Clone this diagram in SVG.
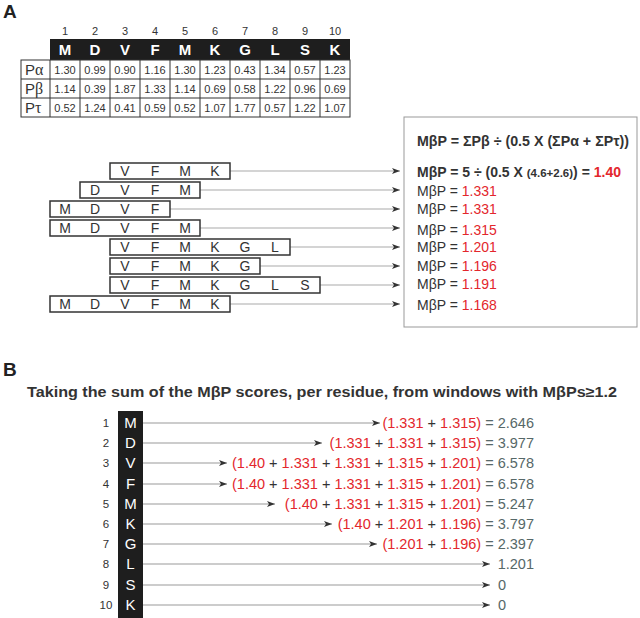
<svg xmlns="http://www.w3.org/2000/svg" width="640" height="618" viewBox="0 0 640 618">
<style>
text{font-family:"Liberation Sans",Arial,sans-serif;fill:#333}
.lab{font-size:19px;font-weight:bold;fill:#222}
.cn{font-size:11px;text-anchor:middle;fill:#333}
.hd{font-size:15px;font-weight:bold;fill:#fff;text-anchor:middle}
.cv{font-size:11px;text-anchor:middle;fill:#333}
.rl{font-size:15px;fill:#333}
.gk{font-family:"Liberation Serif","Times New Roman",serif;font-weight:normal}
.grid{stroke:#333;stroke-width:1;fill:none}
.win rect{fill:#fff;stroke:#333;stroke-width:1.5}
.win text{font-size:14px;text-anchor:middle;fill:#333}
.fb{fill:#fff;stroke:#999;stroke-width:1}
.f{font-size:14px;fill:#333}
.b{font-weight:bold}
.red{fill:#e3262c}
.res{fill:#566868}
.conA line{stroke:#aaa;stroke-width:1.2;marker-end:url(#ah)}
.conB line{stroke:#999;stroke-width:1.2;marker-end:url(#ah)}
.col text{font-size:15px;fill:#fff;text-anchor:middle}
.rn{font-size:11.5px;fill:#333;text-anchor:middle}
.sum{font-size:14.5px;text-anchor:end}
</style>
<defs>
<marker id="ah" markerUnits="userSpaceOnUse" markerWidth="10" markerHeight="8" refX="8" refY="3" orient="auto">
<path d="M0,0 L8,3 L0,6 L2,3 z" fill="#333"/>
</marker>
</defs>

<text class="lab" x="3" y="18">A</text>

<g id="table">
<text class="cn" x="65" y="35">1</text>
<text class="cn" x="95" y="35">2</text>
<text class="cn" x="125" y="35">3</text>
<text class="cn" x="155" y="35">4</text>
<text class="cn" x="185" y="35">5</text>
<text class="cn" x="215" y="35">6</text>
<text class="cn" x="245" y="35">7</text>
<text class="cn" x="275" y="35">8</text>
<text class="cn" x="305" y="35">9</text>
<text class="cn" x="335" y="35">10</text>
<rect x="50" y="39" width="300" height="21" fill="#1e1e1e"/>
<text class="hd" x="65" y="55">M</text>
<text class="hd" x="95" y="55">D</text>
<text class="hd" x="125" y="55">V</text>
<text class="hd" x="155" y="55">F</text>
<text class="hd" x="185" y="55">M</text>
<text class="hd" x="215" y="55">K</text>
<text class="hd" x="245" y="55">G</text>
<text class="hd" x="275" y="55">L</text>
<text class="hd" x="305" y="55">S</text>
<text class="hd" x="335" y="55">K</text>
<rect class="grid" x="21" y="60" width="329" height="57"/>
<path class="grid" d="M21,79H350M21,98H350M50,60V117M80,60V117M110,60V117M140,60V117M170,60V117M200,60V117M230,60V117M260,60V117M290,60V117M320,60V117"/>
<text class="rl" x="25" y="75">P<tspan class="gk" font-size="16">α</tspan></text>
<text class="rl" x="25" y="94">P<tspan class="gk" font-size="16">β</tspan></text>
<text class="rl" x="25" y="113">P<tspan class="gk" font-size="16">τ</tspan></text>
<text class="cv" x="65" y="74">1.30</text><text class="cv" x="95" y="74">0.99</text><text class="cv" x="125" y="74">0.90</text><text class="cv" x="155" y="74">1.16</text><text class="cv" x="185" y="74">1.30</text><text class="cv" x="215" y="74">1.23</text><text class="cv" x="245" y="74">0.43</text><text class="cv" x="275" y="74">1.34</text><text class="cv" x="305" y="74">0.57</text><text class="cv" x="335" y="74">1.23</text>
<text class="cv" x="65" y="93">1.14</text><text class="cv" x="95" y="93">0.39</text><text class="cv" x="125" y="93">1.87</text><text class="cv" x="155" y="93">1.33</text><text class="cv" x="185" y="93">1.14</text><text class="cv" x="215" y="93">0.69</text><text class="cv" x="245" y="93">0.58</text><text class="cv" x="275" y="93">1.22</text><text class="cv" x="305" y="93">0.96</text><text class="cv" x="335" y="93">0.69</text>
<text class="cv" x="65" y="112">0.52</text><text class="cv" x="95" y="112">1.24</text><text class="cv" x="125" y="112">0.41</text><text class="cv" x="155" y="112">0.59</text><text class="cv" x="185" y="112">0.52</text><text class="cv" x="215" y="112">1.07</text><text class="cv" x="245" y="112">1.77</text><text class="cv" x="275" y="112">0.57</text><text class="cv" x="305" y="112">1.22</text><text class="cv" x="335" y="112">1.07</text>
</g>

<g id="connectors-A" class="conA">
<line x1="230" y1="171" x2="400" y2="171"/>
<line x1="200" y1="190" x2="400" y2="190"/>
<line x1="170" y1="209" x2="400" y2="209"/>
<line x1="200" y1="228" x2="400" y2="228"/>
<line x1="290" y1="247" x2="400" y2="247"/>
<line x1="260" y1="266" x2="400" y2="266"/>
<line x1="320" y1="285" x2="400" y2="285"/>
<line x1="230" y1="304" x2="400" y2="304"/>
</g>

<g id="win1" class="win"><rect x="110" y="163" width="120" height="16"/><text x="125" y="176">V</text><text x="155" y="176">F</text><text x="185" y="176">M</text><text x="215" y="176">K</text></g>
<g id="win2" class="win"><rect x="80" y="182" width="120" height="16"/><text x="95" y="195">D</text><text x="125" y="195">V</text><text x="155" y="195">F</text><text x="185" y="195">M</text></g>
<g id="win3" class="win"><rect x="50" y="201" width="120" height="16"/><text x="65" y="214">M</text><text x="95" y="214">D</text><text x="125" y="214">V</text><text x="155" y="214">F</text></g>
<g id="win4" class="win"><rect x="50" y="220" width="150" height="16"/><text x="65" y="233">M</text><text x="95" y="233">D</text><text x="125" y="233">V</text><text x="155" y="233">F</text><text x="185" y="233">M</text></g>
<g id="win5" class="win"><rect x="110" y="239" width="180" height="16"/><text x="125" y="252">V</text><text x="155" y="252">F</text><text x="185" y="252">M</text><text x="215" y="252">K</text><text x="245" y="252">G</text><text x="275" y="252">L</text></g>
<g id="win6" class="win"><rect x="110" y="258" width="150" height="16"/><text x="125" y="271">V</text><text x="155" y="271">F</text><text x="185" y="271">M</text><text x="215" y="271">K</text><text x="245" y="271">G</text></g>
<g id="win7" class="win"><rect x="110" y="277" width="210" height="16"/><text x="125" y="290">V</text><text x="155" y="290">F</text><text x="185" y="290">M</text><text x="215" y="290">K</text><text x="245" y="290">G</text><text x="275" y="290">L</text><text x="305" y="290">S</text></g>
<g id="win8" class="win"><rect x="50" y="296" width="180" height="16"/><text x="65" y="309">M</text><text x="95" y="309">D</text><text x="125" y="309">V</text><text x="155" y="309">F</text><text x="185" y="309">M</text><text x="215" y="309">K</text></g>

<g id="formula-box">
<rect class="fb" x="404" y="117" width="233" height="210"/>
<text class="f b" x="417" y="146" textLength="212" lengthAdjust="spacingAndGlyphs">MβP = ΣPβ ÷ (0.5 X (ΣPα + ΣPτ))</text>
<text class="f b" x="417" y="177">MβP = 5 ÷ (0.5 X <tspan font-size="11.5">(4.6+2.6)</tspan>) = <tspan class="red">1.40</tspan></text>
<text class="f" x="417" y="196">MβP = <tspan class="red">1.331</tspan></text>
<text class="f" x="417" y="214">MβP = <tspan class="red">1.331</tspan></text>
<text class="f" x="417" y="235">MβP = <tspan class="red">1.315</tspan></text>
<text class="f" x="417" y="252">MβP = <tspan class="red">1.201</tspan></text>
<text class="f" x="417" y="271">MβP = <tspan class="red">1.196</tspan></text>
<text class="f" x="417" y="289">MβP = <tspan class="red">1.191</tspan></text>
<text class="f" x="417" y="310">MβP = <tspan class="red">1.168</tspan></text>
</g>

<text class="lab" x="3" y="376">B</text>
<text x="27" y="397" font-size="14.5" font-weight="bold" fill="#222" textLength="590" lengthAdjust="spacingAndGlyphs">Taking the sum of the MβP scores, per residue, from windows with MβPs≥1.2</text>

<g id="residues" class="col">
<rect x="118" y="411" width="25" height="207" fill="#1e1e1e"/>
<text x="130.5" y="428">M</text>
<text x="130.5" y="448">D</text>
<text x="130.5" y="468">V</text>
<text x="130.5" y="489">F</text>
<text x="130.5" y="509">M</text>
<text x="130.5" y="529">K</text>
<text x="130.5" y="549">G</text>
<text x="130.5" y="569">L</text>
<text x="130.5" y="590">S</text>
<text x="130.5" y="610">K</text>
</g>
<g id="rownums">
<text class="rn" x="106" y="427">1</text>
<text class="rn" x="106" y="447">2</text>
<text class="rn" x="106" y="467">3</text>
<text class="rn" x="106" y="488">4</text>
<text class="rn" x="106" y="508">5</text>
<text class="rn" x="106" y="528">6</text>
<text class="rn" x="106" y="548">7</text>
<text class="rn" x="106" y="568">8</text>
<text class="rn" x="106" y="589">9</text>
<text class="rn" x="106" y="609">10</text>
</g>

<g id="connectors-B" class="conB">
<line x1="143" y1="423" x2="380" y2="423"/>
<line x1="143" y1="443" x2="322" y2="443"/>
<line x1="143" y1="463" x2="227" y2="463"/>
<line x1="143" y1="484" x2="227" y2="484"/>
<line x1="143" y1="504" x2="275" y2="504"/>
<line x1="143" y1="524" x2="332" y2="524"/>
<line x1="143" y1="544" x2="377" y2="544"/>
<line x1="143" y1="564" x2="490" y2="564"/>
<line x1="143" y1="585" x2="490" y2="585"/>
<line x1="143" y1="605" x2="490" y2="605"/>
</g>

<g id="sums">
<text class="sum" x="534" y="428"><tspan class="red">(1.331</tspan> + <tspan class="red">1.315)</tspan><tspan class="res"> = 2.646</tspan></text>
<text class="sum" x="534" y="448"><tspan class="red">(1.331</tspan> + <tspan class="red">1.331</tspan> + <tspan class="red">1.315)</tspan><tspan class="res"> = 3.977</tspan></text>
<text class="sum" x="534" y="468"><tspan class="red">(1.40</tspan> + <tspan class="red">1.331</tspan> + <tspan class="red">1.331</tspan> + <tspan class="red">1.315</tspan> + <tspan class="red">1.201)</tspan><tspan class="res"> = 6.578</tspan></text>
<text class="sum" x="534" y="489"><tspan class="red">(1.40</tspan> + <tspan class="red">1.331</tspan> + <tspan class="red">1.331</tspan> + <tspan class="red">1.315</tspan> + <tspan class="red">1.201)</tspan><tspan class="res"> = 6.578</tspan></text>
<text class="sum" x="534" y="509"><tspan class="red">(1.40</tspan> + <tspan class="red">1.331</tspan> + <tspan class="red">1.315</tspan> + <tspan class="red">1.201)</tspan><tspan class="res"> = 5.247</tspan></text>
<text class="sum" x="534" y="529"><tspan class="red">(1.40</tspan> + <tspan class="red">1.201</tspan> + <tspan class="red">1.196)</tspan><tspan class="res"> = 3.797</tspan></text>
<text class="sum" x="534" y="549"><tspan class="red">(1.201</tspan> + <tspan class="red">1.196)</tspan><tspan class="res"> = 2.397</tspan></text>
<text class="sum res" x="534" y="569">1.201</text>
<text x="498" y="590" font-size="14.5" class="res">0</text>
<text x="498" y="610" font-size="14.5" class="res">0</text>
</g>
</svg>
